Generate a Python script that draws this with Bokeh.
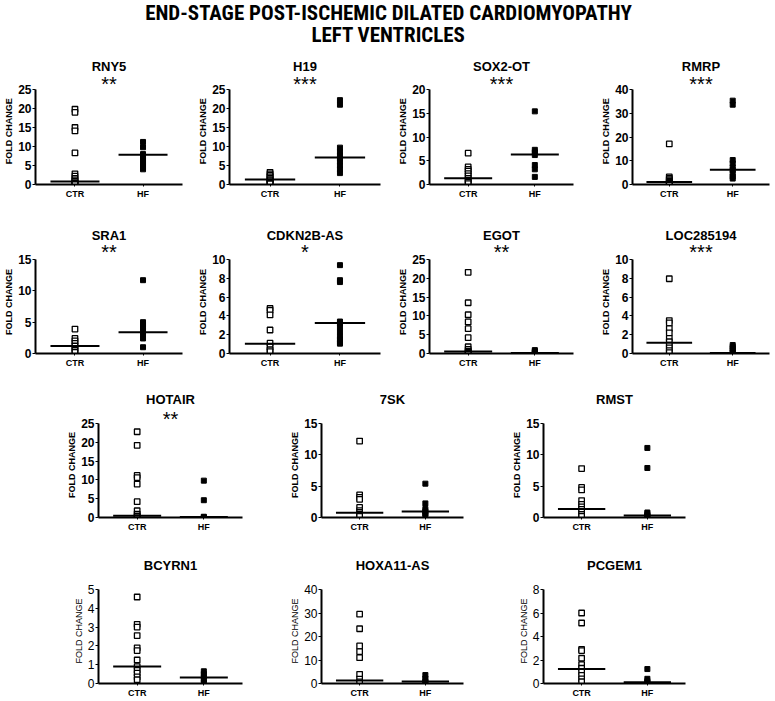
from bokeh.plotting import figure
from bokeh.models import Range1d, FixedTicker, Label
from bokeh.layouts import column, row
from bokeh.core.properties import value
from bokeh.embed import file_html
from bokeh.resources import INLINE

FONT = "Liberation Sans, Arial, sans-serif"
NARROW = "Roboto Condensed, Liberation Sans Narrow, Arial Narrow, Lato, sans-serif"

MAIN_TITLE = ["END-STAGE POST-ISCHEMIC DILATED CARDIOMYOPATHY", "LEFT VENTRICLES"]
GROUPS = ["CTR", "HF"]
Y_LABEL = "FOLD CHANGE"

GENES = ["RNY5", "H19", "SOX2-OT", "RMRP",
         "SRA1", "CDKN2B-AS", "EGOT", "LOC285194",
         "HOTAIR", "7SK", "RMST",
         "BCYRN1", "HOXA11-AS", "PCGEM1"]
STARS = ["**", "***", "***", "***",
         "**", "*", "**", "***",
         "**", "", "",
         "", "", ""]
Y_MAX = [25, 25, 20, 40, 15, 10, 25, 10, 25, 15, 15, 5, 40, 8]
Y_STEP = [5, 5, 5, 10, 5, 2, 5, 2, 5, 5, 5, 1, 10, 2]

RNY5_CTR = [19.8, 19.0, 15.0, 14.1, 8.3, 2.8, 2.2, 1.6, 1.2, 0.8, 0.5, 0.3, 0.1]
RNY5_HF = [11.2, 9.8, 8.0, 7.2, 6.4, 5.8, 5.2, 4.6, 4.0]
H19_CTR = [3.2, 2.8, 2.4, 2.0, 1.6, 1.3, 1.0, 0.7, 0.4, 0.2]
H19_HF = [22.2, 21.0, 9.7, 8.6, 7.6, 6.8, 6.0, 5.0, 4.0, 3.0]
SOX2OT_CTR = [6.6, 3.7, 3.2, 2.8, 2.3, 1.8, 1.3, 0.9, 0.5, 0.2]
SOX2OT_HF = [15.4, 7.3, 6.8, 6.2, 4.1, 3.2, 1.6]
RMRP_CTR = [17.1, 3.2, 2.6, 2.0, 1.4, 0.9, 0.5, 0.2]
RMRP_HF = [35.3, 33.6, 10.3, 8.9, 7.2, 6.1, 4.7, 3.3, 2.5]
SRA1_CTR = [3.9, 2.4, 2.0, 1.6, 1.2, 0.8, 0.5, 0.2]
SRA1_HF = [11.7, 5.0, 4.6, 4.2, 3.7, 3.2, 2.4, 1.0]
CDKN2BAS_CTR = [4.8, 4.6, 4.1, 2.5, 1.1, 0.7, 0.4, 0.2]
CDKN2BAS_HF = [9.4, 7.8, 7.6, 3.4, 3.2, 2.8, 2.3, 1.8, 1.5, 1.2, 1.05]
EGOT_CTR = [21.6, 13.5, 10.3, 8.4, 6.6, 4.2, 1.8, 1.1, 0.6, 0.3, 0.1]
EGOT_HF = [0.9, 0.6, 0.3, 0.1]
LOC285194_CTR = [7.95, 3.5, 3.25, 2.65, 2.2, 1.6, 1.25, 0.9, 0.6, 0.3, 0.1]
LOC285194_HF = [0.9, 0.7, 0.5, 0.3, 0.1]
HOTAIR_CTR = [22.8, 19.2, 11.2, 10.6, 8.9, 4.2, 1.8, 0.9, 0.4, 0.2]
HOTAIR_HF = [9.8, 4.6, 0.2, 0.05]
SK7_CTR = [12.2, 3.6, 3.2, 2.9, 1.6, 1.1, 0.8, 0.5, 0.2]
SK7_HF = [5.4, 2.25, 1.35, 1.0, 0.65, 0.4]
RMST_CTR = [7.8, 4.8, 4.4, 2.7, 2.1, 1.7, 1.3, 0.9, 0.5, 0.2]
RMST_HF = [11.1, 7.9, 0.8, 0.55, 0.3, 0.1]
BCYRN1_CTR = [4.6, 3.15, 3.0, 2.55, 1.9, 1.75, 1.25, 0.9, 0.7, 0.55, 0.35, 0.2]
BCYRN1_HF = [0.65, 0.5, 0.35, 0.2, 0.05]
HOXA11AS_CTR = [29.5, 23.3, 16.0, 13.6, 11.0, 3.9, 1.9, 0.7]
HOXA11AS_HF = [3.6, 2.1, 1.0, 0.3]
PCGEM1_CTR = [6.0, 5.15, 2.9, 2.8, 2.15, 1.6, 1.3, 1.0, 0.7, 0.4, 0.15]
PCGEM1_HF = [1.23, 0.4, 0.2, 0.05]

MEDIAN_CTR = [0.8, 1.3, 1.3, 1.1, 1.2, 1.05, 0.5, 1.15, 0.45, 0.75, 1.35, 0.9, 1.3, 1.23]
MEDIAN_HF = [7.8, 7.1, 6.3, 6.2, 3.4, 3.25, 0.15, 0.05, 0.1, 0.95, 0.3, 0.32, 0.9, 0.1]

CTR_DATA = [RNY5_CTR, H19_CTR, SOX2OT_CTR, RMRP_CTR, SRA1_CTR, CDKN2BAS_CTR, EGOT_CTR,
            LOC285194_CTR, HOTAIR_CTR, SK7_CTR, RMST_CTR, BCYRN1_CTR, HOXA11AS_CTR, PCGEM1_CTR]
HF_DATA = [RNY5_HF, H19_HF, SOX2OT_HF, RMRP_HF, SRA1_HF, CDKN2BAS_HF, EGOT_HF,
           LOC285194_HF, HOTAIR_HF, SK7_HF, RMST_HF, BCYRN1_HF, HOXA11AS_HF, PCGEM1_HF]

# geometry (pixels): per column (border_left, frame_w, border_right)
COLS4 = [(35, 147, 13), (34, 151, 10), (39, 144, 17), (42, 137, 3)]
COLS3 = [(98, 144, 13), (66, 142, 12), (68, 142, 87)]
# per row: (figure_top, axis_top, axis_bottom, figure_bottom, title_dy, stars_dy, label_dy, bold_ticks)
ROWS = [(50, 89, 184, 205, -23, -7, -6, True),
        (205, 259, 353, 372, -24, -9, -5, True),
        (372, 423, 517, 538, -24, -6, -5, True),
        (538, 589, 683, 700, -24, 0, -5, False)]
HEADER_H = 50
X_LIM = (0.42, 2.58)
MED_HALF = 0.36
LABEL_PX = 9
NBSP_W = 0.278 * LABEL_PX


def panel(i, col, rw):
    bl, fw, br = col
    ftop, atop, abot, fbot, t_dy, s_dy, l_dy, bold = rw
    ymax = Y_MAX[i]
    y_end = ymax * (1 + (atop - ftop) / (abot - atop))
    p = figure(width=bl + fw + br, height=fbot - ftop,
               x_range=Range1d(*X_LIM), y_range=Range1d(0, y_end),
               output_backend="svg", toolbar_location=None,
               min_border_left=bl, min_border_right=br,
               min_border_top=0, min_border_bottom=fbot - abot)
    p.grid.visible = False
    p.outline_line_color = None

    ax = p.xaxis[0]
    ax.ticker = FixedTicker(ticks=[1, 2])
    ax.major_label_overrides = {1: GROUPS[0], 2: GROUPS[1]}
    ax.axis_line_width = 2
    ax.axis_line_color = "black"
    ax.major_tick_line_color = "black"
    ax.major_tick_out = 2
    ax.major_tick_in = 0
    ax.minor_tick_out = 0
    ax.minor_tick_in = 0
    ax.major_label_text_font = FONT
    ax.major_label_text_font_style = "bold"
    ax.major_label_text_font_size = "9px"
    ax.major_label_text_color = "black"
    ax.major_label_standoff = 2

    ay = p.yaxis[0]
    ay.bounds = (0, ymax)
    ay.ticker = FixedTicker(ticks=list(range(0, ymax + 1, Y_STEP[i])))
    ay.axis_line_width = 2
    ay.axis_line_color = "black"
    ay.major_tick_line_color = "black"
    ay.major_tick_out = 3
    ay.major_tick_in = 0
    ay.minor_tick_out = 0
    ay.minor_tick_in = 0
    ay.major_label_text_font = FONT
    ay.major_label_text_font_style = "bold" if bold else "normal"
    ay.major_label_text_font_size = "12px"
    ay.major_label_text_color = "black"
    ay.major_label_standoff = 1
    # centre the label on the axis (the frame also holds the titles above it)
    frame_mid = (ftop + abot) / 2
    want_mid = (atop + abot) / 2 + l_dy
    n_pad = max(0, int(round(2 * (want_mid - frame_mid) / NBSP_W)))
    ay.axis_label = Y_LABEL + "\u00a0" * n_pad
    ay.axis_label_text_font = FONT
    ay.axis_label_text_font_style = "bold" if bold else "normal"
    ay.axis_label_text_font_size = f"{LABEL_PX}px"
    ay.axis_label_text_color = "black"
    ay.axis_label_standoff = 1

    ctr = CTR_DATA[i]
    hf = HF_DATA[i]
    p.scatter(x=[1] * len(ctr), y=ctr, marker="square", size=5.5,
              fill_color="white", line_color="black", line_width=1.3)
    p.scatter(x=[2] * len(hf), y=hf, marker="square", size=5,
              fill_color="black", line_color="black", line_width=1)
    p.segment(x0=[1 - MED_HALF, 2 - MED_HALF], x1=[1 + MED_HALF, 2 + MED_HALF],
              y0=[MEDIAN_CTR[i], MEDIAN_HF[i]], y1=[MEDIAN_CTR[i], MEDIAN_HF[i]],
              line_color="black", line_width=2)

    xc = (X_LIM[0] + X_LIM[1]) / 2
    p.text(x=[xc], y=[ymax], text=[GENES[i]], y_offset=t_dy,
           text_align="center", text_baseline="middle",
           text_font=value(FONT), text_font_size=value("13px"),
           text_font_style=value("bold"), text_color="black")
    if STARS[i]:
        p.text(x=[xc], y=[ymax], text=[STARS[i]], y_offset=1.5 + s_dy,
               text_align="center", text_baseline="alphabetic",
               text_font=value(FONT), text_font_size=value("20px"),
               text_font_style=value("normal"), text_color="black")
    return p


header = figure(width=772, height=HEADER_H, x_range=Range1d(0, 772),
                y_range=Range1d(0, HEADER_H),
                output_backend="svg", toolbar_location=None,
                min_border_left=0, min_border_right=0,
                min_border_top=0, min_border_bottom=0)
header.axis.visible = False
header.grid.visible = False
header.outline_line_color = None
for txt, yy in zip(MAIN_TITLE, [HEADER_H - 12, HEADER_H - 34]):
    header.add_layout(Label(x=388, y=yy, text=txt, text_align="center",
                            text_baseline="middle", text_font=NARROW,
                            text_font_size="21px", text_font_style="bold",
                            text_color="black"))

rows = []
idx = 0
for r, cols in enumerate([COLS4, COLS4, COLS3, COLS3]):
    figs = []
    for c in cols:
        figs.append(panel(idx, c, ROWS[r]))
        idx += 1
    rows.append(row(*figs))

layout = column(header, *rows)
open("out.html", "w").write(file_html(layout, INLINE))
